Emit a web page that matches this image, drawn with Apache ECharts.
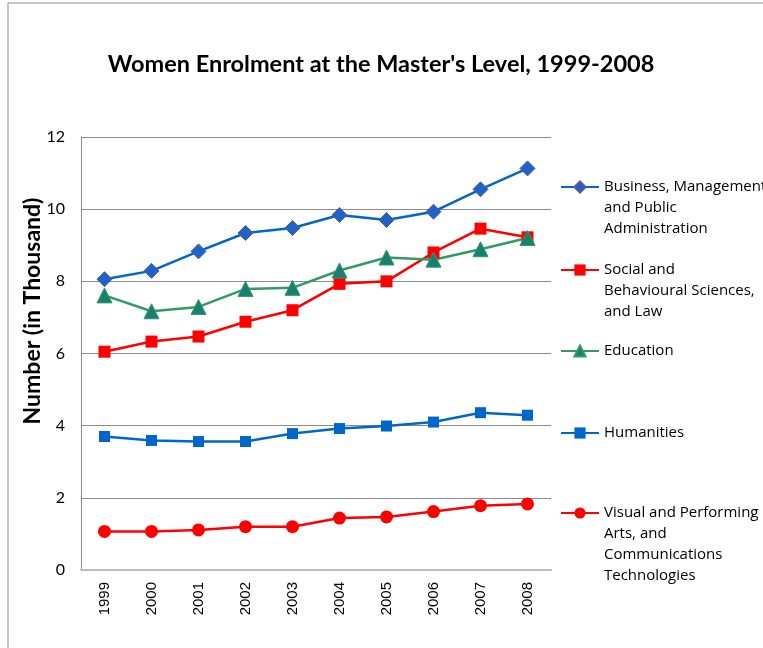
<!DOCTYPE html>
<html>
<head>
<meta charset="utf-8">
<script src="https://cdn.jsdelivr.net/npm/echarts@6/dist/echarts.min.js"></script>
<style>html,body{margin:0;padding:0;background:#fff;}#c{width:763px;height:648px;}</style>
</head>
<body>
<div id="c"></div>
<script>
const years = ['1999','2000','2001','2002','2003','2004','2005','2006','2007','2008'];
const business = [8.06, 8.29, 8.83, 9.34, 9.48, 9.84, 9.70, 9.93, 10.55, 11.13];
const social = [6.05, 6.33, 6.47, 6.88, 7.20, 7.93, 8.00, 8.80, 9.46, 9.22];
const education = [7.61, 7.17, 7.29, 7.79, 7.82, 8.30, 8.66, 8.60, 8.89, 9.20];
const humanities = [3.70, 3.59, 3.56, 3.56, 3.78, 3.92, 3.99, 4.10, 4.36, 4.29];
const visual = [1.07, 1.07, 1.11, 1.20, 1.20, 1.44, 1.47, 1.62, 1.78, 1.83];
const yTicks = [0, 2, 4, 6, 8, 10, 12];

const names = [
  'Business, Management\nand Public\nAdministration',
  'Social and\nBehavioural Sciences,\nand Law',
  'Education',
  'Humanities',
  'Visual and Performing\nArts, and\nCommunications\nTechnologies'
];
const legendY = [187, 270, 351, 433, 513];
const LH = 21;

const chart = echarts.init(document.getElementById('c'), null, {renderer: 'canvas'});

function mk(name, data, lineColor, symbol, size, fill, border) {
  return {
    name: name, type: 'line', data: data, symbol: symbol, symbolSize: size,
    showAllSymbol: true, animation: false,
    lineStyle: {color: lineColor, width: 2.5},
    itemStyle: {color: fill, borderColor: border, borderWidth: border === fill ? 0 : 1},
    emphasis: {disabled: true}
  };
}

const legends = names.map((n, i) => {
  const lines = n.split('\n').length;
  const boxH = Math.max(14, (2 * lines - 1) * LH);
  return {
    data: [n], left: 560, top: legendY[i] - boxH / 2, padding: 0,
    itemWidth: 38, itemHeight: 14, itemGap: 0, selectedMode: false,
    formatter: nm => ' \n'.repeat(lines - 1) + nm,
    textStyle: {fontFamily: 'Open Sans', fontSize: 15, color: '#000', lineHeight: LH}
  };
});

chart.setOption({
  animation: false,
  backgroundColor: '#fff',
  title: {
    text: "Women Enrolment at the Master's Level, 1999-2008",
    left: 376, top: 47, textAlign: 'center',
    textStyle: {fontFamily: 'Lato', fontWeight: 'bold', fontSize: 23.5, color: '#000'}
  },
  graphic: [
    {type: 'rect', shape: {x: 8, y: 3, width: 800, height: 700},
      style: {fill: 'none', stroke: '#8c8c8c', lineWidth: 1}, silent: true},
    {type: 'text', x: 33, y: 311, rotation: Math.PI / 2, silent: true,
      style: {text: 'Number (in Thousand)', fontFamily: 'Lato', fontWeight: 'bold', fontSize: 23,
        fill: '#000', align: 'center', verticalAlign: 'middle'}}
  ],
  legend: legends,
  grid: {left: 81, right: 212, top: 137, bottom: 78},
  xAxis: {
    type: 'category', data: years, boundaryGap: true,
    axisLine: {lineStyle: {color: '#bdbdbd', width: 2}},
    axisTick: {show: false},
    axisLabel: {rotate: 90, margin: 12, fontFamily: 'Liberation Sans', fontSize: 15, color: '#000'}
  },
  yAxis: {
    type: 'value', min: yTicks[0], max: yTicks[yTicks.length - 1], interval: 2,
    axisLine: {show: true, lineStyle: {color: '#8c8c8c', width: 1}},
    axisTick: {show: false},
    splitLine: {lineStyle: {color: '#8c8c8c', width: 1}},
    axisLabel: {margin: 16, fontFamily: 'Lato', fontSize: 16, color: '#000'}
  },
  series: [
    mk(names[0], business, '#0066CC', 'diamond', 15, '#1F62C8', '#5A5A9A'),
    mk(names[1], social, '#FF0000', 'rect', 12, '#FF0000', '#FF0000'),
    mk(names[2], education, '#339966', 'triangle', 15, '#17806E', '#339966'),
    mk(names[3], humanities, '#0066CC', 'rect', 11, '#0066CC', '#0066CC'),
    mk(names[4], visual, '#FF0000', 'circle', 13, '#FF0000', '#FF0000')
  ]
});
</script>
</body>
</html>
